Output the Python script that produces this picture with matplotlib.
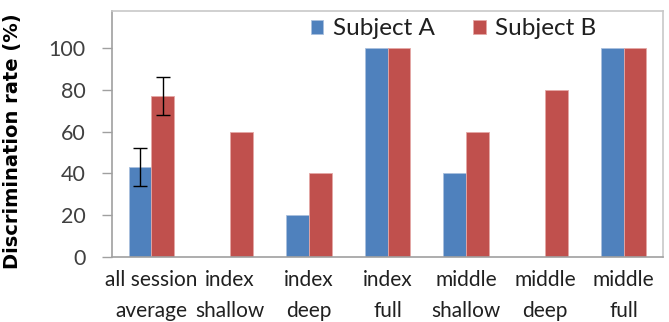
import matplotlib
matplotlib.use("Agg")
import matplotlib.pyplot as plt
import numpy as np

categories = ["all session\naverage", "index\nshallow", "index\ndeep", "index\nfull",
              "middle\nshallow", "middle\ndeep", "middle\nfull"]
subject_a = [43, 0, 20, 100, 40, 0, 100]
subject_b = [77, 60, 40, 100, 60, 80, 100]
err_a = [9, 0, 0, 0, 0, 0, 0]
err_b = [9, 0, 0, 0, 0, 0, 0]
yticks = [0, 20, 40, 60, 80, 100]

plt.rcParams['font.family'] = ['Lato', 'DejaVu Sans']

fig = plt.figure(figsize=(6.69, 3.22), dpi=100)
ax = fig.add_axes([112/669, 65/322, 551/669, 246/322])

x = np.arange(len(categories))
w = 0.29
ax.bar(x - w/2, subject_a, w, color="#4F81BD", edgecolor="#a9c0de", linewidth=0.6, label="Subject A")
ax.bar(x + w/2, subject_b, w, color="#C0504D", edgecolor="#e4a8a6", linewidth=0.6, label="Subject B")
ax.errorbar(x[:1] - w/2, subject_a[:1], yerr=err_a[:1], fmt="none", ecolor="black", capsize=5, elinewidth=1, capthick=1)
ax.errorbar(x[:1] + w/2, subject_b[:1], yerr=err_b[:1], fmt="none", ecolor="black", capsize=5, elinewidth=1, capthick=1)

ax.set_xlim(-0.5, len(categories) - 0.5)
ax.set_ylim(0, 117.7)
ax.set_yticks(yticks)
ax.set_yticklabels([str(t) for t in yticks], fontsize=15.5, color="#404040")
ax.set_xticks(x)
ax.set_xticklabels(categories, fontsize=15, color="#202020", linespacing=1.72)
ax.tick_params(axis="x", length=0, pad=9)
ax.tick_params(axis="y", length=7, color="#a0a0a0", width=1, pad=12)
for s in ax.spines.values():
    s.set_color("#c8c8c8")
    s.set_linewidth(1.2)
ax.spines["left"].set_color("#a0a0a0")
ax.spines["bottom"].set_color("#a0a0a0")

ax.set_ylabel("Discrimination rate (%)", fontsize=14, fontweight="bold", color="black",
              family="DejaVu Sans")
ax.yaxis.set_label_coords(-112/551 + 22/551, 0.47)

leg = ax.legend(loc="center", bbox_to_anchor=(0.62, 0.928), ncol=2, frameon=False,
                fontsize=17.5, handlelength=0.5, handleheight=0.5, columnspacing=1.6,
                handletextpad=0.4, borderaxespad=0)
for t in leg.get_texts():
    t.set_color("#202020")

fig.savefig("out.png", dpi=100)
